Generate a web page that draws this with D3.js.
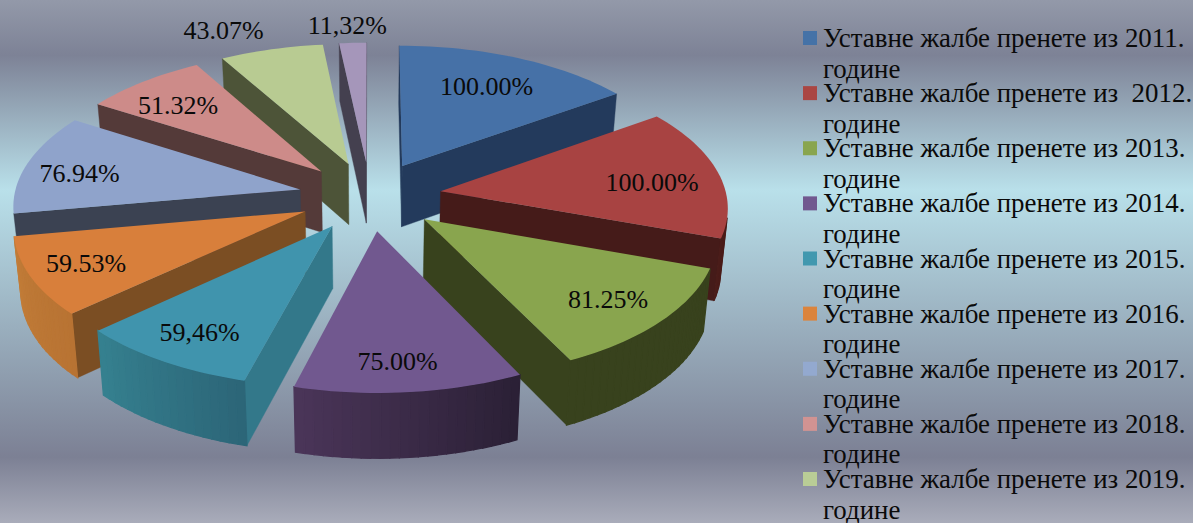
<!DOCTYPE html>
<html>
<head>
<meta charset="utf-8">
<script src="https://cdn.jsdelivr.net/npm/d3@7"></script>
<style>
html,body{margin:0;padding:0;overflow:hidden;background:#9ab}
svg{display:block}
text{font-family:"Liberation Serif",serif;fill:#0a0a0a;white-space:pre}
</style>
</head>
<body>
<svg id="chart" width="1193" height="523"></svg>
<script>
// ---- data ----
const values = [100, 100, 81.25, 75, 59.46, 59.53, 76.94, 51.32, 43.07, 11.32];
const valueLabels = ["100.00%","100.00%","81.25%","75.00%","59,46%","59.53%","76.94%","51.32%","43.07%","11,32%"];
const legendLabels = [
  "Уставне жалбе пренете из 2011.",
  "Уставне жалбе пренете из  2012.",
  "Уставне жалбе пренете из 2013.",
  "Уставне жалбе пренете из 2014.",
  "Уставне жалбе пренете из 2015.",
  "Уставне жалбе пренете из 2016.",
  "Уставне жалбе пренете из 2017.",
  "Уставне жалбе пренете из 2018.",
  "Уставне жалбе пренете из 2019."
];
const legendSecondLine = "године";

// ---- styles ----
const topColors  = ["#4671a7","#a84342","#89a54e","#71588f","#4094ad","#d87f3b","#8fa3cb","#cd8b89","#b8cb92","#a596ba"];
const keyColors  = ["#4572a7","#aa4643","#89a54e","#71588f","#4198af","#db843d","#93a9cf","#d19392","#b9cd96","#a99bbd"];
const wallColors = ["#233a5c","#451b19","#38421d","#4a3558","#33788a","#7b4e23","#3b4252","#543a39","#4d5438","#44404f"];
const rimStart   = ["#233a5c","#4a1c19","#38421d","#2b2036","#2c6678","#b87333","#3b4252","#543a39","#4d5438","#44404f"];
const rimEnd     = ["#233a5c","#4a1c19","#38421d","#4a3558","#35808f","#c17c38","#3b4252","#543a39","#4d5438","#44404f"];
// label placement: radial fraction along each slice's middle, then a small nudge
const labelRadius = [0.66,0.76,0.80,0.86,0.82,0.83,0.78,0.74,1.2,1.12];
const labelNudge  = [[6,-6],[0,5],[-3,0],[-7,-6],[4,-3],[7,-2],[-7,4],[-9,2],[-34,2],[-4,-4]];

// ---- geometry ----
const W = 1193, H = 523;
const cx = 370, cy = 196, radX = 286, radY = 138, persp = 10, explode = 0.25, thick = 61.5;

const svg = d3.select("#chart");
const defs = svg.append("defs");
const bg = defs.append("linearGradient").attr("id","bg").attr("x1",0).attr("x2",0).attr("y1",0).attr("y2",1);
[[0,"#9399a9"],[55/523,"#7d8296"],[190/523,"#b9e0ea"],[457/523,"#7c8094"],[1,"#a9acba"]]
  .forEach(([o,c]) => bg.append("stop").attr("offset",o).attr("stop-color",c));
svg.append("rect").attr("width",W).attr("height",H).attr("fill","url(#bg)");

const sx = d3.scaleLinear().domain([-1,1]).range([cx-radX,cx+radX]);
const sy = d3.scaleLinear().domain([-1,1]).range([cy+radY,cy-radY]);
const projTop = (x,y) => {
  const s = 1/(1+y/persp);
  return [cx+(sx(x)-cx)*s, cy+(sy(y)-cy)*s];
};
const projBottom = (x,y) => {
  const p = projTop(x,y);
  return [cx+(p[0]-cx)*0.98, p[1]+thick*(1-0.05*y)];
};
const poly = d3.line().curve(d3.curveLinearClosed);

const pie = d3.pie().sort(null).startAngle(0).endAngle(2*Math.PI)(values);
const slices = pie.map((d,i) => {
  const mid = (d.startAngle+d.endAngle)/2;
  return {i, a0:d.startAngle, a1:d.endAngle, mid, ox:explode*Math.sin(mid), oy:explode*Math.cos(mid)};
});
const point = (s,r,a) => [s.ox+r*Math.sin(a), s.oy+r*Math.cos(a)];

const layer = svg.append("g");
slices.slice().sort((a,b) => b.oy-a.oy).forEach(s => {
  const g = layer.append("g");
  const n = Math.max(6, Math.round((s.a1-s.a0)/0.03));
  const rim = d3.range(n+1).map(k => s.a0+(s.a1-s.a0)*k/n);
  const apex = point(s,0,0);
  const wall = (p,q,fill,sw) => {
    const pts = [projTop(...p),projTop(...q),projBottom(...q),projBottom(...p)];
    if (d3.polygonArea(pts) > 0) g.append("path").attr("d",poly(pts)).attr("fill",fill).attr("stroke",fill).attr("stroke-width",sw);
  };
  const shade = d3.interpolateRgb(rimStart[s.i],rimEnd[s.i]);
  wall(apex,point(s,1,s.a0),wallColors[s.i],0.4);
  wall(point(s,1,s.a1),apex,wallColors[s.i],0.4);
  d3.range(n).forEach(k => wall(point(s,1,rim[k]),point(s,1,rim[k+1]),shade(k/(n-1)),1.3));
  const topPts = [apex,...rim.map(a => point(s,1,a))].map(p => projTop(...p));
  g.append("path").attr("d",poly(topPts)).attr("fill",topColors[s.i]);
});

// value labels
svg.append("g").selectAll("text").data(slices).join("text")
  .attr("font-size",26).attr("text-anchor","middle")
  .attr("transform",s => {
    const p = projTop(...point(s,labelRadius[s.i],s.mid));
    const n = labelNudge[s.i];
    return `translate(${p[0]+n[0]},${p[1]+n[1]+8.5})`;
  })
  .text(s => valueLabels[s.i]);

// legend
const legendY = d3.scaleLinear().domain([0,8]).range([31,472]);
const lg = svg.append("g").selectAll("g").data(legendLabels).join("g")
  .attr("transform",(d,i) => `translate(803,${legendY(i)})`);
lg.append("rect").attr("width",14).attr("height",14).attr("fill",(d,i) => keyColors[i]);
lg.append("text").attr("x",20).attr("y",16).attr("font-size",26.9).attr("xml:space","preserve").text(d => d);
lg.append("text").attr("x",20).attr("y",46.5).attr("font-size",26.9).text(legendSecondLine);
</script>
</body>
</html>
